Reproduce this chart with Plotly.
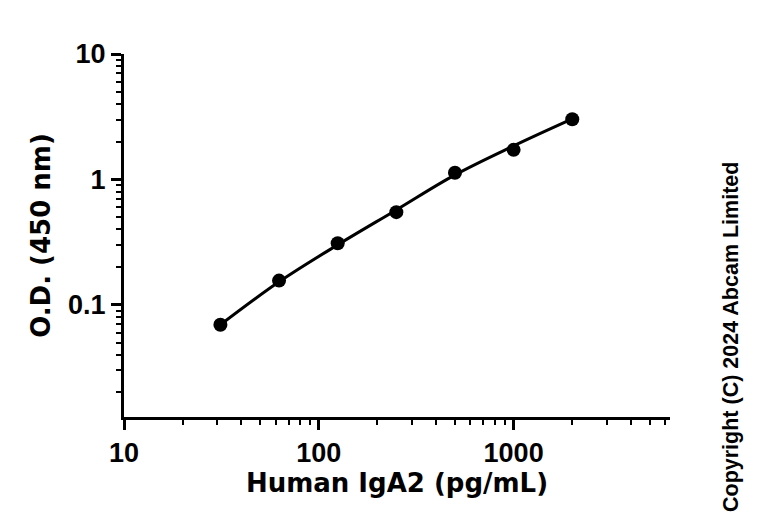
import plotly.graph_objects as go
import numpy as np

# measured points
conc = [31.25, 62.5, 125, 250, 500, 1000, 2000]
od = [0.0693, 0.156, 0.310, 0.548, 1.13, 1.72, 3.02]

# fitted curve at the same concentrations
fit_conc = [31.25, 62.5, 125, 250, 500, 1000, 2000]
fit_od = [0.0693, 0.1525, 0.301, 0.571, 1.086, 1.849, 3.034]

x_major = [10, 100, 1000]
x_major_text = ["10", "100", "1000"]
x_minor = [20, 30, 40, 50, 60, 70, 80, 90, 200, 300, 400, 500, 600, 700, 800, 900,
           2000, 3000, 4000, 5000, 6000]
y_major = [0.1, 1, 10]
y_major_text = ["0.1", "1", "10"]
y_minor = [0.02, 0.03, 0.04, 0.05, 0.06, 0.07, 0.08, 0.09,
           0.2, 0.3, 0.4, 0.5, 0.6, 0.7, 0.8, 0.9,
           2, 3, 4, 5, 6, 7, 8, 9]

tick_font = dict(family="Liberation Sans Narrow, Arial Narrow, Arial", size=27,
                 color="black", weight="bold")
title_font = dict(family="DejaVu Sans, sans-serif", size=26, color="black", weight="bold")

fig = go.Figure()
fig.add_trace(go.Scatter(
    x=fit_conc, y=fit_od, mode="lines",
    line=dict(color="black", width=3, shape="spline", smoothing=1.0),
    showlegend=False, hoverinfo="skip",
))
fig.add_trace(go.Scatter(
    x=conc, y=od, mode="markers",
    marker=dict(color="black", size=14),
    showlegend=False, hoverinfo="skip",
))

fig.update_layout(
    width=768, height=527,
    margin=dict(l=124, r=98, t=54, b=110),
    paper_bgcolor="white", plot_bgcolor="white",
    xaxis=dict(
        type="log", range=[1, np.log10(6350)],
        showline=True, linecolor="black", linewidth=3,
        showgrid=False, zeroline=False,
        ticks="outside", ticklen=10, tickwidth=3, tickcolor="black",
        tickvals=x_major, ticktext=x_major_text, tickfont=tick_font,
        minor=dict(ticks="outside", ticklen=5, tickwidth=2, tickcolor="black",
                   tickvals=x_minor, showgrid=False),
        title=dict(text="Human IgA2 (pg/mL)", font=title_font, standoff=6),
    ),
    yaxis=dict(
        type="log", range=[np.log10(0.01275), 1],
        showline=True, linecolor="black", linewidth=3,
        showgrid=False, zeroline=False,
        ticks="outside", ticklen=10, tickwidth=3, tickcolor="black",
        tickvals=y_major, ticktext=y_major_text, tickfont=tick_font,
        minor=dict(ticks="outside", ticklen=5, tickwidth=2, tickcolor="black",
                   tickvals=y_minor, showgrid=False),
        title=dict(text="O.D. (450 nm)", font=title_font, standoff=10),
    ),
    annotations=[dict(
        text="<b>Copyright (C) 2024 Abcam Limited</b>",
        xref="paper", yref="paper", x=(731 - 124) / 546, y=(527 - 337 - 110) / 363,
        textangle=-90, showarrow=False,
        font=dict(family="Liberation Sans, Arial", size=21.5, color="black"),
        xanchor="center", yanchor="middle",
    )],
)

fig.write_html("out.html")
